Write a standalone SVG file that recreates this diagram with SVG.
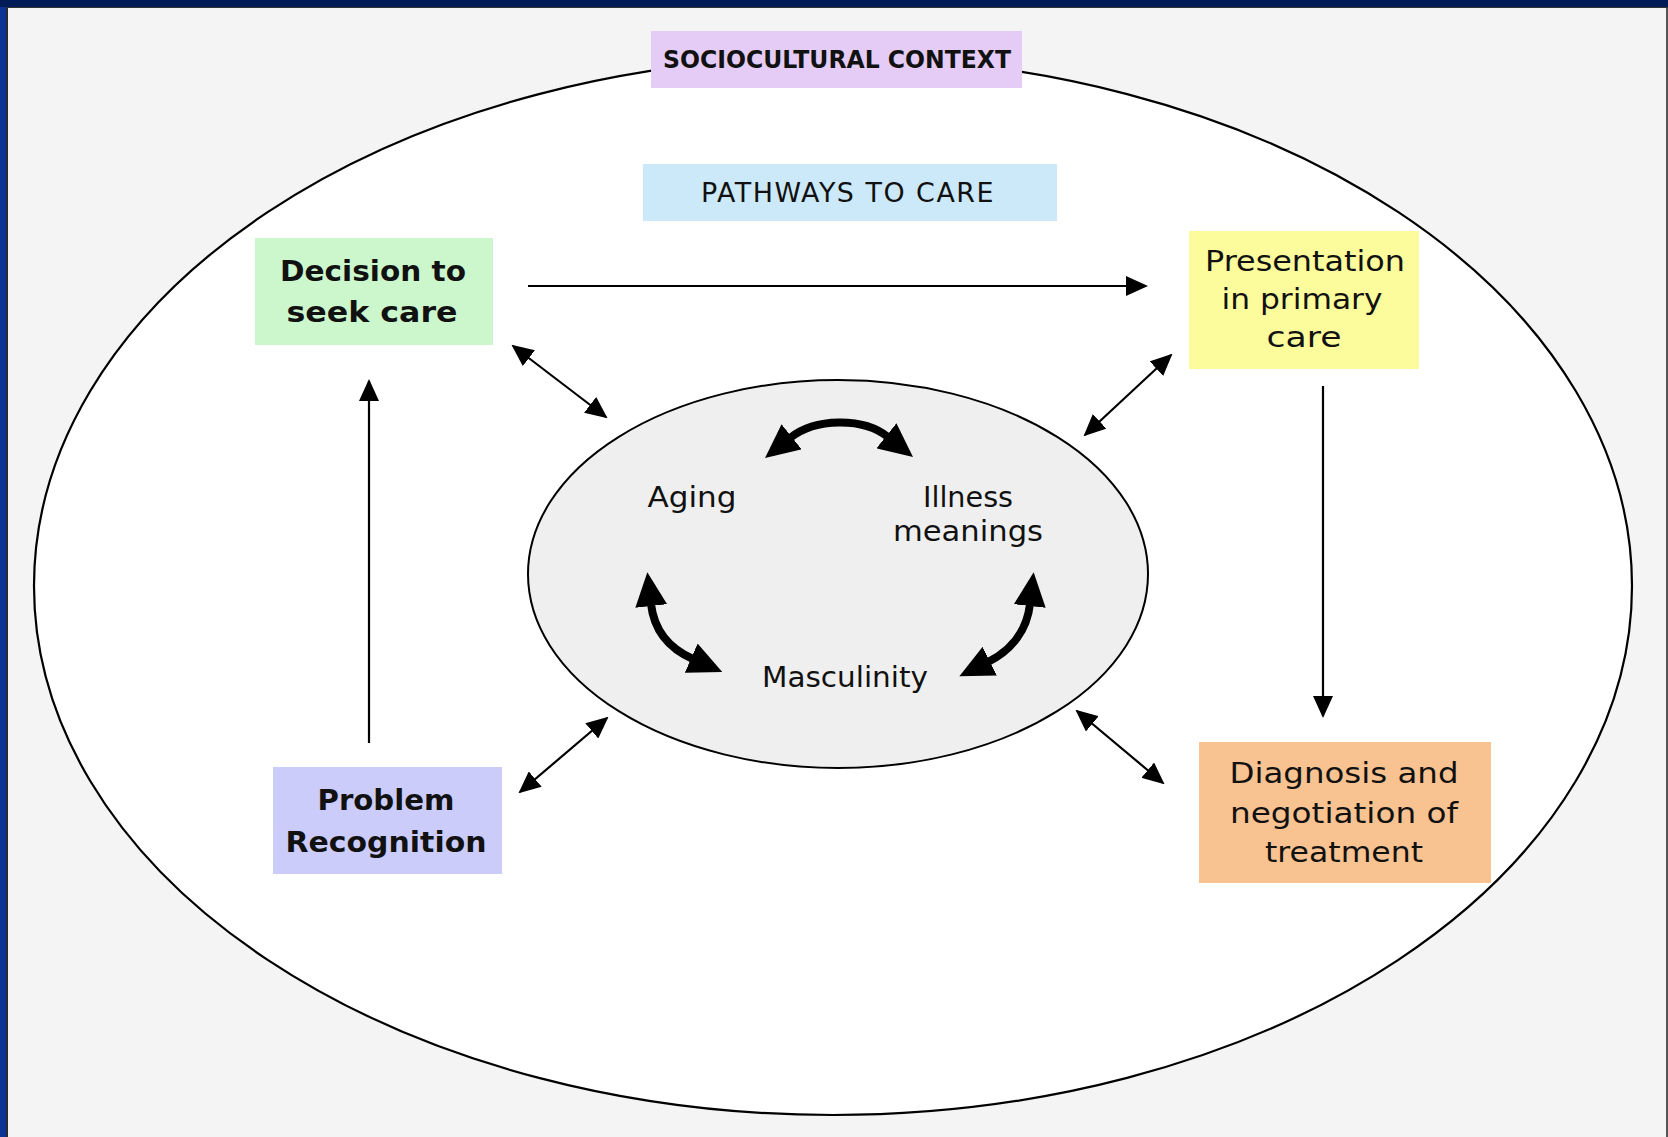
<svg xmlns="http://www.w3.org/2000/svg" width="1668" height="1137" viewBox="0 0 1668 1137">
  <style>
    .box-label { font-family: "DejaVu Sans", "Liberation Sans", sans-serif; fill: #111; text-anchor: middle; }
    .bold { font-weight: bold; }
    .thin { fill: none; stroke: #000; stroke-width: 2.2; }
    .thick { fill: none; stroke: #000; stroke-width: 8; }
  </style>
  <defs>
    <marker id="ah" viewBox="0 0 22 20" refX="20" refY="10" markerWidth="22" markerHeight="20" markerUnits="userSpaceOnUse" orient="auto-start-reverse">
      <path d="M0,0 L22,10 L0,20 z" fill="#000"/>
    </marker>
    <marker id="bh" viewBox="0 0 34 32" refX="2" refY="16" markerWidth="34" markerHeight="32" markerUnits="userSpaceOnUse" orient="auto-start-reverse">
      <path d="M0,0 L34,16 L0,32 z" fill="#000"/>
    </marker>
  </defs>

  <!-- background and frame -->
  <rect x="0" y="0" width="1668" height="1137" fill="#f4f4f4"/>
  <rect x="0" y="0" width="7" height="1137" fill="#0b3494"/>
  <rect x="6" y="0" width="2" height="1137" fill="#2a2a3a"/>
  <rect x="1666" y="0" width="2" height="1137" fill="#555"/>
  <rect x="0" y="0" width="1668" height="7" fill="#021c58"/>
  <rect x="7" y="7" width="1661" height="1" fill="#333"/>

  <g id="sociocultural-context">
    <ellipse cx="833" cy="586" rx="799" ry="529" fill="#ffffff" stroke="#000" stroke-width="2.2"/>
    <rect x="651" y="31" width="371" height="57" fill="#e4ccf7"/>
    <text class="box-label bold" x="837" y="68" font-size="25" textLength="348" lengthAdjust="spacingAndGlyphs">SOCIOCULTURAL CONTEXT</text>
  </g>

  <g id="pathways-to-care">
    <rect x="643" y="164" width="414" height="57" fill="#cce9f9"/>
    <text class="box-label" x="848" y="202" font-size="27" textLength="294" lengthAdjust="spacingAndGlyphs" letter-spacing="1.5">PATHWAYS TO CARE</text>
  </g>

  <g id="core">
    <ellipse cx="838" cy="574" rx="310" ry="194" fill="#efefef" stroke="#000" stroke-width="2"/>
  </g>

  <g id="aging">
    <text class="box-label" x="692" y="507" font-size="28" textLength="89" lengthAdjust="spacingAndGlyphs">Aging</text>
  </g>
  <g id="illness-meanings">
    <text class="box-label" x="968" y="507" font-size="28" textLength="90" lengthAdjust="spacingAndGlyphs">Illness</text>
    <text class="box-label" x="968" y="541" font-size="28" textLength="150" lengthAdjust="spacingAndGlyphs">meanings</text>
  </g>
  <g id="masculinity">
    <text class="box-label" x="845" y="687" font-size="28" textLength="166" lengthAdjust="spacingAndGlyphs">Masculinity</text>
  </g>

  <g id="decision">
    <rect x="255" y="238" width="238" height="107" fill="#ccf7cc"/>
    <text class="box-label bold" x="373" y="281" font-size="29" textLength="186" lengthAdjust="spacingAndGlyphs">Decision to</text>
    <text class="box-label bold" x="372" y="322" font-size="29" textLength="171" lengthAdjust="spacingAndGlyphs">seek care</text>
  </g>

  <g id="presentation">
    <rect x="1189" y="231" width="230" height="138" fill="#fcfc9c"/>
    <text class="box-label" x="1305" y="271" font-size="29" textLength="200" lengthAdjust="spacingAndGlyphs">Presentation</text>
    <text class="box-label" x="1302" y="309" font-size="29" textLength="161" lengthAdjust="spacingAndGlyphs">in primary</text>
    <text class="box-label" x="1304" y="347" font-size="29" textLength="75" lengthAdjust="spacingAndGlyphs">care</text>
  </g>

  <g id="diagnosis">
    <rect x="1199" y="742" width="292" height="141" fill="#f9c391"/>
    <text class="box-label" x="1344" y="783" font-size="29" textLength="229" lengthAdjust="spacingAndGlyphs">Diagnosis and</text>
    <text class="box-label" x="1344" y="823" font-size="29" textLength="228" lengthAdjust="spacingAndGlyphs">negotiation of</text>
    <text class="box-label" x="1344" y="862" font-size="29" textLength="158" lengthAdjust="spacingAndGlyphs">treatment</text>
  </g>

  <g id="problem">
    <rect x="273" y="767" width="229" height="107" fill="#ccccfb"/>
    <text class="box-label bold" x="386" y="810" font-size="29" textLength="137" lengthAdjust="spacingAndGlyphs">Problem</text>
    <text class="box-label bold" x="386" y="852" font-size="29" textLength="201" lengthAdjust="spacingAndGlyphs">Recognition</text>
  </g>

  <g id="connectors">
    <line class="thin" x1="528" y1="286" x2="1146" y2="286" marker-end="url(#ah)"/>
    <line class="thin" x1="1323" y1="386" x2="1323" y2="716" marker-end="url(#ah)"/>
    <line class="thin" x1="369" y1="743" x2="369" y2="381" marker-end="url(#ah)"/>
    <line class="thin" x1="513" y1="346" x2="606" y2="417" marker-start="url(#ah)" marker-end="url(#ah)"/>
    <line class="thin" x1="1171" y1="355" x2="1085" y2="435" marker-start="url(#ah)" marker-end="url(#ah)"/>
    <line class="thin" x1="520" y1="792" x2="607" y2="718" marker-start="url(#ah)" marker-end="url(#ah)"/>
    <line class="thin" x1="1077" y1="711" x2="1163" y2="783" marker-start="url(#ah)" marker-end="url(#ah)"/>
    <path class="thick" d="M790,438 C815,418 863,417 888,437" marker-start="url(#bh)" marker-end="url(#bh)"/>
    <path class="thick" d="M651,604 C654,630 668,648 693,659" marker-start="url(#bh)" marker-end="url(#bh)"/>
    <path class="thick" d="M1030,604 C1027,630 1012,650 988,662" marker-start="url(#bh)" marker-end="url(#bh)"/>
  </g>
</svg>
